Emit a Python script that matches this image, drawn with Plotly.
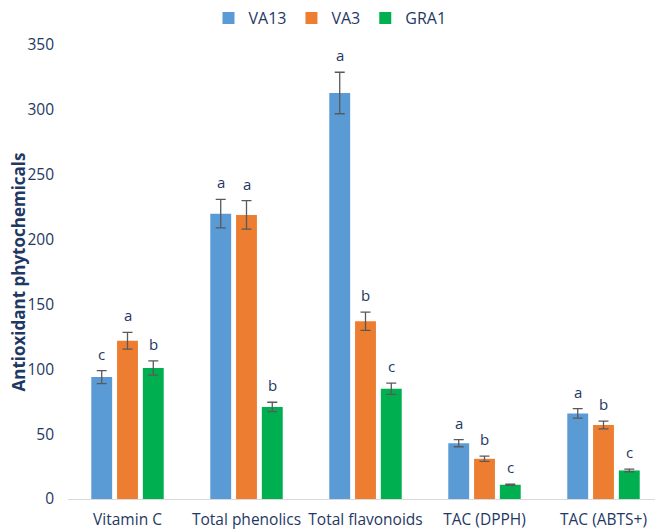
import plotly.graph_objects as go

# Data
categories = ["Vitamin C", "Total phenolics", "Total flavonoids", "TAC (DPPH)", "TAC (ABTS+)"]
series_names = ["VA13", "VA3", "GRA1"]

va13 = [94, 220, 313, 43, 66]
va3 = [122, 219, 137, 31, 57]
gra1 = [101, 71, 85, 11, 22]

va13_err = [5, 11, 16, 2.7, 3.6]
va3_err = [6.5, 11, 7, 2, 3]
gra1_err = [5.5, 3.6, 4.4, 0.5, 1]

va13_letters = ["c", "a", "a", "a", "a"]
va3_letters = ["a", "a", "b", "b", "b"]
gra1_letters = ["b", "b", "c", "c", "c"]

y_ticks = [0, 50, 100, 150, 200, 250, 300, 350]

NAVY = "#1F3864"
FONT = "Open Sans"
colors = ["#5B9BD5", "#ED7D31", "#00B050"]

# the page puts the figure 8px in from the top-left corner, so the
# figure is drawn 8px smaller and the margins are shifted to match
W, H = 655, 523
M_L, M_T, M_B = 60, 37, 32
BARGAP = 0.35

values = [va13, va3, gra1]
errors = [va13_err, va3_err, gra1_err]
letters = [va13_letters, va3_letters, gra1_letters]

fig = go.Figure()

for name, vals, errs, color in zip(series_names, values, errors, colors):
    fig.add_trace(go.Bar(
        x=categories,
        y=vals,
        name=name,
        marker=dict(color=color, line=dict(width=0)),
        error_y=dict(type="data", array=errs, visible=True,
                     color="#595959", thickness=1.3, width=5),
    ))

# significance letters above each error bar
plot_w = W - M_L
plot_h = H - M_T - M_B
slot = plot_w / len(categories) * (1 - BARGAP) / 3
for k, (vals, errs, labs) in enumerate(zip(values, errors, letters)):
    for cat, v, e, lab in zip(categories, vals, errs, labs):
        fig.add_annotation(
            x=cat, y=v + e, text=lab, showarrow=False,
            xshift=(k - 1) * slot, yanchor="bottom", yshift=5,
            font=dict(family=FONT, size=15, color=NAVY),
        )

# y axis title, pushed to the far left edge
fig.add_annotation(
    text="<b>Antioxidant phytochemicals</b>", textangle=-90,
    xref="paper", yref="paper", x=-M_L / plot_w, y=0.5,
    xanchor="left", yanchor="middle", showarrow=False, borderpad=0,
    xshift=-3,
    font=dict(family=FONT, size=17, color=NAVY),
)

fig.update_layout(
    width=W,
    height=H,
    margin=dict(l=M_L, r=0, t=M_T, b=M_B, autoexpand=False),
    plot_bgcolor="white",
    paper_bgcolor="white",
    barmode="group",
    bargap=BARGAP,
    bargroupgap=0.19,
    font=dict(family=FONT, color=NAVY, size=15),
    legend=dict(
        orientation="h",
        xref="container", x=322 / W, xanchor="center",
        yref="paper", y=1 + (M_T - 10) / plot_h, yanchor="middle",
        font=dict(family=FONT, size=16, color=NAVY),
        itemwidth=30,
        traceorder="normal",
    ),
    xaxis=dict(
        showline=True, linecolor="#D9D9D9", linewidth=1,
        showgrid=False, ticks="",
        ticklabelstandoff=6,
        tickfont=dict(family=FONT, size=15.5, color=NAVY),
    ),
    yaxis=dict(
        range=[0, 350],
        tickvals=y_ticks,
        showgrid=False, zeroline=False, showline=False, ticks="",
        ticklabelstandoff=13,
        tickfont=dict(family=FONT, size=15.5, color=NAVY),
    ),
)

fig.write_html("out.html")
